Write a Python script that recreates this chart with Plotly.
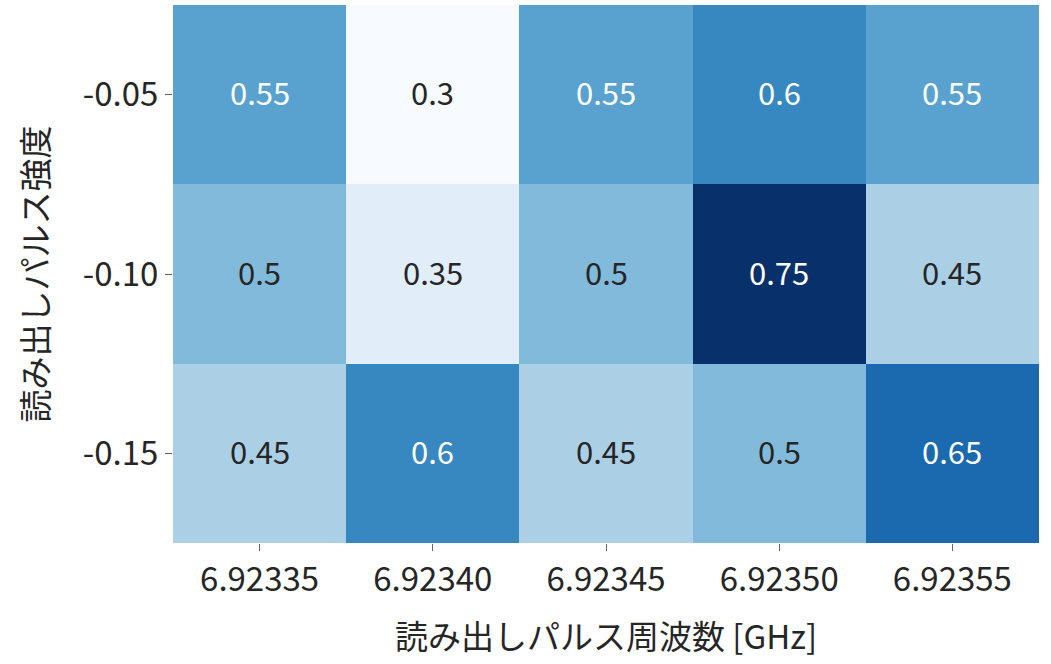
import plotly.graph_objects as go
import plotly.colors as pc

# Readout pulse frequency [GHz] (columns) and amplitude (rows, top to bottom)
freq_labels = ["6.92335", "6.92340", "6.92345", "6.92350", "6.92355"]
amp_labels = ["-0.05", "-0.10", "-0.15"]

# Fidelity values per (amplitude, frequency)
row_m005 = [0.55, 0.30, 0.55, 0.60, 0.55]
row_m010 = [0.50, 0.35, 0.50, 0.75, 0.45]
row_m015 = [0.45, 0.60, 0.45, 0.50, 0.65]
z_values = [row_m005, row_m010, row_m015]

zmin, zmax = 0.30, 0.75
blues = pc.sequential.Blues
scale = [[i / (len(blues) - 1), c] for i, c in enumerate(blues)]

FONT = "Noto Sans CJK JP, Noto Sans, sans-serif"


def cell_rgb(v):
    t = (v - zmin) / (zmax - zmin)
    t = min(max(t, 0.0), 1.0)
    n = len(blues) - 1
    i = min(int(t * n), n - 1)
    lo = pc.unlabel_rgb(blues[i])
    hi = pc.unlabel_rgb(blues[i + 1])
    return pc.find_intermediate_color(lo, hi, t * n - i)


def text_color(v):
    r, g, b = [c / 255.0 for c in cell_rgb(v)]
    lin = [c / 12.92 if c <= 0.03928 else ((c + 0.055) / 1.055) ** 2.4 for c in (r, g, b)]
    lum = 0.2126 * lin[0] + 0.7152 * lin[1] + 0.0722 * lin[2]
    return "#262626" if lum > 0.408 else "white"


# Heatmap on integer cell positions; labels are applied as tick text
x_idx = list(range(len(freq_labels)))
y_idx = list(range(len(amp_labels)))

fig = go.Figure(
    go.Heatmap(
        z=z_values,
        x=x_idx,
        y=y_idx,
        colorscale=scale,
        zmin=zmin,
        zmax=zmax,
        showscale=False,
        hoverinfo="skip",
    )
)

annotations = []
for yi, row in enumerate(z_values):
    for xi, v in enumerate(row):
        annotations.append(
            dict(
                x=x_idx[xi],
                y=y_idx[yi],
                xref="x",
                yref="y",
                yshift=3,
                text=f"{v:g}",
                showarrow=False,
                font=dict(family=FONT, size=31, color=text_color(v)),
            )
        )

fig.update_layout(
    width=1051,
    height=664,
    margin=dict(l=173, r=12, t=5, b=121),
    paper_bgcolor="white",
    plot_bgcolor="white",
    annotations=annotations,
    font=dict(family=FONT, color="#262626"),
)

fig.update_xaxes(
    range=[-0.5, len(freq_labels) - 0.5],
    tickmode="array",
    tickvals=x_idx,
    ticktext=freq_labels,
    tickangle=0,
    ticks="outside",
    ticklen=7,
    tickwidth=1,
    tickcolor="#666666",
    tickfont=dict(family=FONT, size=33, color="#262626"),
    title=dict(text="読み出しパルス周波数 [GHz]", font=dict(family=FONT, size=33, color="#262626"), standoff=26),
    showgrid=False,
    zeroline=False,
    showline=False,
)
fig.update_yaxes(
    range=[len(amp_labels) - 0.5, -0.5],
    tickmode="array",
    tickvals=y_idx,
    ticktext=amp_labels,
    ticks="outside",
    ticklen=7,
    tickwidth=1,
    tickcolor="#666666",
    tickfont=dict(family=FONT, size=33, color="#262626"),
    title=dict(text="読み出しパルス強度", font=dict(family=FONT, size=33, color="#262626"), standoff=24),
    showgrid=False,
    zeroline=False,
    showline=False,
)

fig.write_html("out.html")
